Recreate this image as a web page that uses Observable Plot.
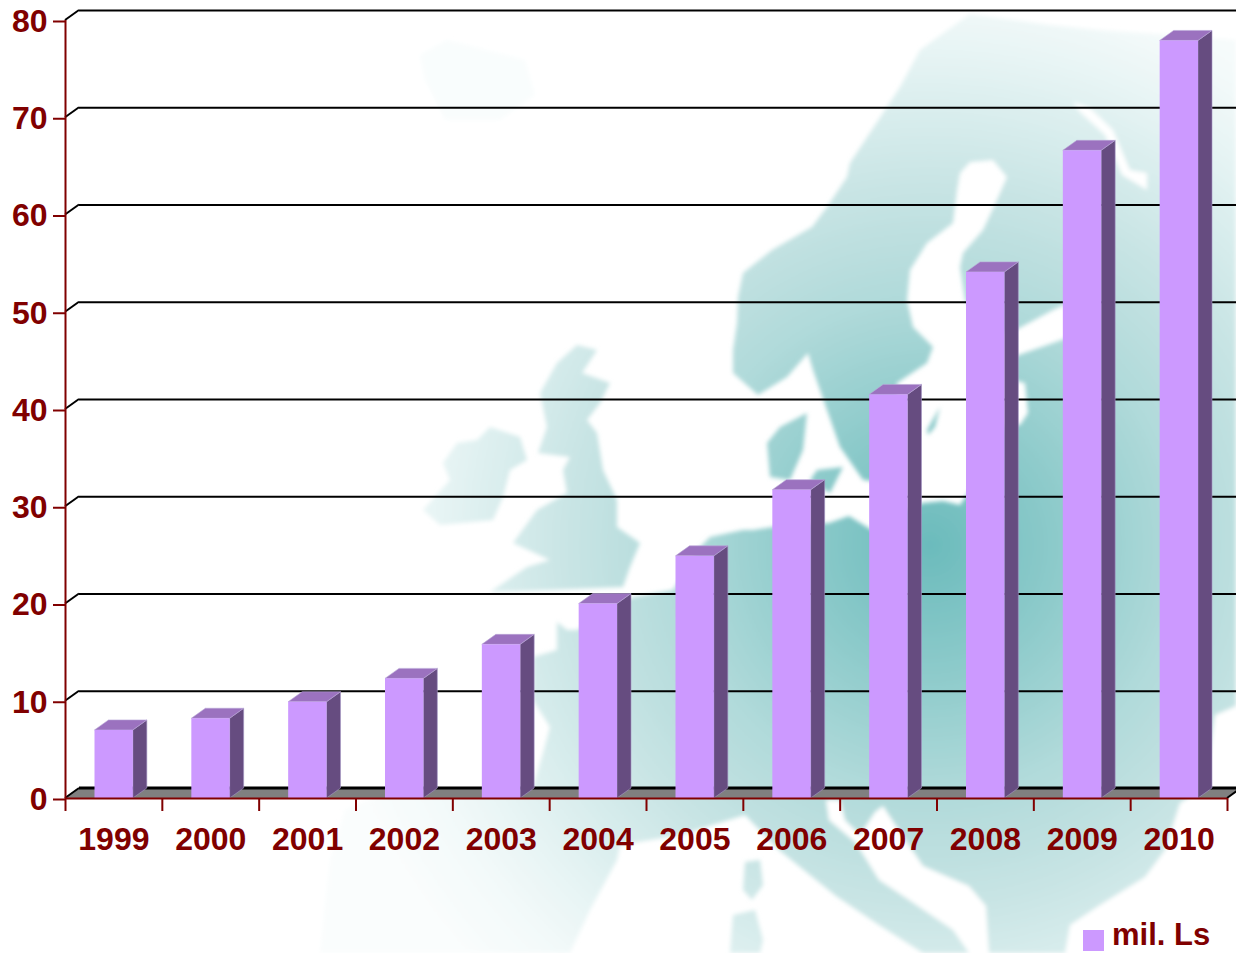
<!DOCTYPE html>
<html>
<head>
<meta charset="utf-8">
<script src="https://cdn.jsdelivr.net/npm/d3@7"></script>
<script src="https://cdn.jsdelivr.net/npm/@observablehq/plot@0.6"></script>
<style>
  html, body { margin: 0; padding: 0; background: #fff; width: 1236px; height: 953px; overflow: hidden; }
  #stage { position: relative; width: 1236px; height: 953px; overflow: hidden; font-family: "Liberation Sans", Arial, sans-serif; }
  #map, #chart { position: absolute; left: 0; top: 0; }
  #chart svg { display: block; background: transparent; }
  #legend { position: absolute; left: 1083px; top: 928px; height: 24px; line-height: 24px; font-size: 31px; font-weight: bold; color: #800000; white-space: nowrap; }
  #legend i { position: absolute; left: 0; top: 2px; width: 21px; height: 21px; background: #cc99ff; }
  #legend span { position: absolute; left: 29px; top: -5px; }
</style>
</head>
<body>
<div id="stage">
  <svg id="map" width="1236" height="953" viewBox="0 0 1236 953">
    <defs>
      <radialGradient id="land" gradientUnits="userSpaceOnUse" cx="930" cy="545" r="620">
        <stop offset="0" stop-color="#6bbbbc"/>
        <stop offset="0.2" stop-color="#8ccaca"/>
        <stop offset="0.4" stop-color="#b0dada"/>
        <stop offset="0.58" stop-color="#c8e4e4"/>
        <stop offset="0.76" stop-color="#e2f2f2"/>
        <stop offset="0.88" stop-color="#f2f9f9"/>
        <stop offset="1" stop-color="#fafdfd"/>
      </radialGradient>
      <filter id="soft" x="-5%" y="-5%" width="110%" height="110%"><feGaussianBlur stdDeviation="2.2"/></filter>
    </defs>
    <g filter="url(#soft)" fill="url(#land)">
      <polygon id="mainland" points="970,14 920,50 900,87 883,113 850,163 847,177 827,207 812,227 772,250 743,273 738,297 737,323 733,350 733,373 758,395 787,377 808,353 813,370 827,410 840,447 863,480 880,482 895,440 897,383 927,363 933,347 913,327 907,300 910,270 927,243 953,223 957,190 960,173 970,162 993,160 1007,177 997,200 983,230 963,253 960,267 965,300 990,330 1010,333 1053,310 1075,300 1075,335 1053,343 1010,358 1012,380 1025,383 1028,413 1020,425 1005,425 990,460 960,505 943,501 923,503 905,510 875,532 849,516 829,523 773,527 753,530 743,530 710,537 700,547 673,590 633,597 577,630 567,630 557,622 557,650 533,657 533,700 550,727 543,753 533,787 470,790 380,795 345,810 330,860 320,953 570,953 590,910 617,860 620,845 680,835 745,815 779,850 836,896 876,923 923,953 1236,953 1236,40 1100,30 1050,25"/>
      <polygon points="490,427 520,437 527,460 510,470 503,497 493,520 440,525 423,510 450,480 443,463 457,443 477,440"/>
      <polygon points="577,345 597,350 582,373 610,383 600,403 587,420 597,433 603,470 617,500 617,527 640,543 630,567 623,587 550,590 490,592 527,567 550,560 513,543 537,510 567,493 563,470 570,457 538,453 547,427 540,393 557,363"/>
      <polygon points="807,413 803,450 790,480 770,477 767,443 780,427"/>
      <polygon points="817,470 843,467 830,493 810,480"/>
      <polygon points="927,430 940,407 935,427 928,435"/>
      <polygon points="745,862 760,860 763,885 752,900 743,890"/>
      <polygon points="733,915 755,910 763,940 760,953 730,953"/>
      <polygon points="420,55 447,40 525,60 535,95 500,120 445,120 425,80" fill="#f9fdfd"/>
      <polygon points="1236,706 1215,715 1210,750 1200,790 1180,803 1165,850 1145,877 1100,905 1070,925 1065,953 1236,953" fill="#fff"/>
      <polygon points="826,800 829,820 856,843 879,880 909,900 953,930 969,953 989,953 986,906 969,886 923,866 896,826 883,806 875,812 860,835 845,820 840,800" fill="#fff"/>
      <polygon points="1073,102 1090,108 1113,130 1130,170 1147,173 1147,190 1122,175 1105,135 1080,112" fill="#fff"/>
    </g>
  </svg>
  <div id="chart"></div>
  <div id="legend"><i></i><span>mil. Ls</span></div>
</div>
<script>
const years = [1999, 2000, 2001, 2002, 2003, 2004, 2005, 2006, 2007, 2008, 2009, 2010];
const values = [7, 8.2, 9.9, 12.3, 15.8, 20, 24.9, 31.7, 41.5, 54.1, 66.6, 77.9];
const yTicks = [0, 10, 20, 30, 40, 50, 60, 70, 80];
const edges = [...years, 2011];

const bars = years.map((year, i) => ({year, end: year + 1, label: String(year), value: values[i]}));

const depthX = 14, depthY = 10, insetL = 29.5, insetR = 29;
const wine = "#800000";
const font = {fontFamily: "Liberation Sans, Arial, sans-serif", fontWeight: "bold", fontSize: 32};

// Oblique faces, positioned through the chart's scales
function polygons(data, faces, attrs) {
  return (index, {x, y}) => {
    const g = d3.create("svg:g");
    for (const d of data) {
      g.append("polygon")
        .attr("points", faces(d, x, y).map(p => p.join(",")).join(" "))
        .attr("fill", attrs.fill)
        .attr("stroke", attrs.stroke ?? "none")
        .attr("stroke-width", attrs.strokeWidth ?? 0.6);
    }
    return g.node();
  };
}
const slants = (index, {x, y}) => {
  const g = d3.create("svg:g");
  for (const t of yTicks) {
    g.append("line")
      .attr("x1", x(1999)).attr("y1", y(t))
      .attr("x2", x(1999) + depthX).attr("y2", y(t) - depthY)
      .attr("stroke", "#000").attr("stroke-width", 2);
  }
  g.append("line")
    .attr("x1", x(2011)).attr("y1", y(0))
    .attr("x2", x(2011) + depthX).attr("y2", y(0) - depthY)
    .attr("stroke", "#000").attr("stroke-width", 2);
  return g.node();
};

const floorFace = polygons([{}], (d, x, y) => [
  [x(1999), y(0)], [x(1999) + depthX, y(0) - depthY], [x(2011) + depthX, y(0) - depthY], [x(2011), y(0)]
], {fill: "#808080"});

const sideFace = polygons(bars, (d, x, y) => {
  const r = x(d.end) - insetR;
  return [[r, y(0)], [r, y(d.value)], [r + depthX, y(d.value) - depthY], [r + depthX, y(0) - depthY]];
}, {fill: "#664c80", stroke: "#a596c4"});

const topFace = polygons(bars, (d, x, y) => {
  const l = x(d.year) + insetL, r = x(d.end) - insetR;
  return [[l, y(d.value)], [l + depthX, y(d.value) - depthY], [r + depthX, y(d.value) - depthY], [r, y(d.value)]];
}, {fill: "#9b72bf", stroke: "#b9a6d6"});

const chart = Plot.plot({
  width: 1236,
  height: 953,
  marginLeft: 65,
  marginRight: 9,
  marginTop: 20,
  marginBottom: 155,
  style: {background: "transparent", overflow: "hidden"},
  x: {type: "linear", domain: [1999, 2011], axis: null},
  y: {domain: [0, 80], axis: null},
  marks: [
    floorFace,
    Plot.ruleY(yTicks.slice(1), {x1: 1999, x2: 2012, dx: depthX, dy: -depthY, stroke: "#000", strokeWidth: 2}),
    Plot.ruleY([0], {x1: 1999, x2: 2011, dx: depthX, dy: -depthY - 0.5, stroke: "#000", strokeWidth: 3}),
    slants,
    sideFace,
    topFace,
    Plot.rect(bars, {x1: "year", x2: "end", y1: 0, y2: "value", insetLeft: insetL, insetRight: insetR, fill: "#cc99ff"}),
    Plot.ruleX([1999], {stroke: wine, strokeWidth: 2}),
    Plot.ruleY([0], {stroke: wine, strokeWidth: 2}),
    Plot.axisY({ticks: yTicks, tickSize: 12, tickPadding: 6, dy: 1, color: wine, strokeWidth: 2, label: null, ...font}),
    Plot.axisX({ticks: edges, tickSize: 13, tickPadding: 0, tickFormat: () => "", color: wine, strokeWidth: 2, label: null}),
    Plot.text(bars, {x: d => d.year + 0.5, y: 0, text: "label", dx: 0, dy: 41, fill: wine, ...font})
  ]
});
document.getElementById("chart").append(chart);
</script>
</body>
</html>
